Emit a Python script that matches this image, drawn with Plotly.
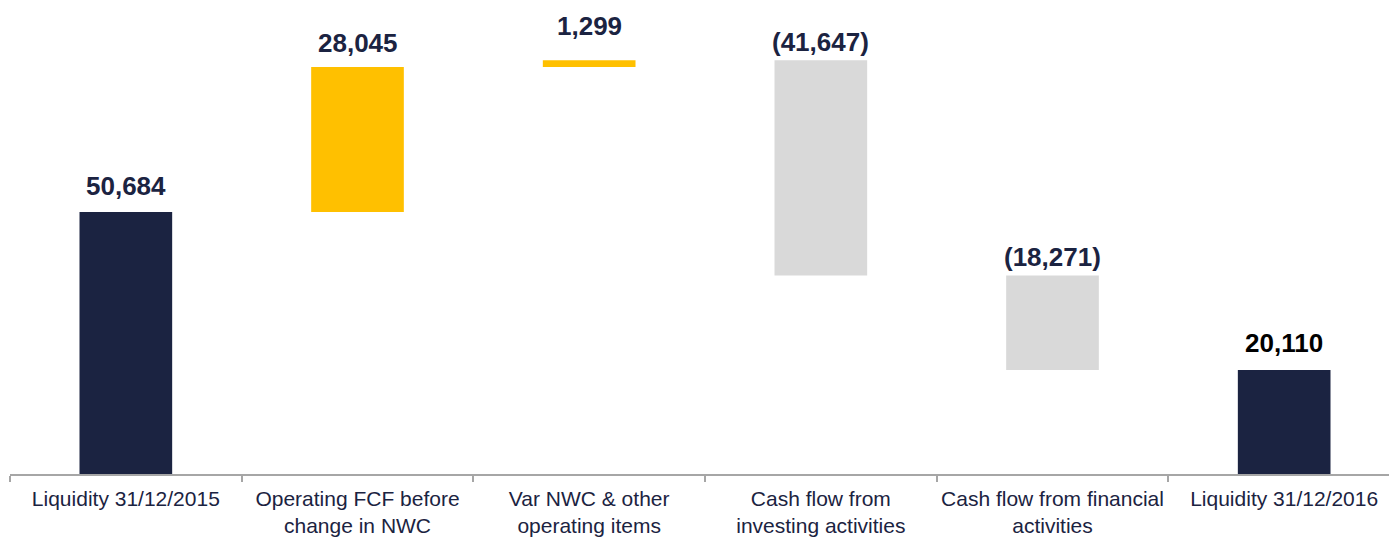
import plotly.graph_objects as go

categories = [
    "Liquidity 31/12/2015",
    "Operating FCF before<br>change in NWC",
    "Var NWC & other<br>operating items",
    "Cash flow from<br>investing activities",
    "Cash flow from financial<br>activities",
    "Liquidity 31/12/2016",
]
values = [50684, 28045, 1299, -41647, -18271, 20110]
kinds = ["total", "relative", "relative", "relative", "relative", "total"]
labels = ["50,684", "28,045", "1,299", "(41,647)", "(18,271)", "20,110"]

# styling (kept separate from data)
label_colors = ["#1B2341", "#1B2341", "#1B2341", "#1B2341", "#1B2341", "#000000"]
label_yshift = [9, 7, 17, 1, 2, 10]

NAVY = "#1B2341"
YELLOW = "#FFC000"
GRAY = "#D9D9D9"

bases, heights, colors, tops = [], [], [], []
running = 0
for v, k in zip(values, kinds):
    if k == "total":
        bases.append(0)
        heights.append(v)
        colors.append(NAVY)
        running = v
        tops.append(v)
    else:
        start = running
        end = running + v
        bases.append(min(start, end))
        heights.append(abs(v))
        colors.append(YELLOW if v > 0 else GRAY)
        tops.append(max(start, end))
        running = end

fig = go.Figure()
fig.add_trace(go.Bar(
    x=categories, y=heights, base=bases,
    marker=dict(color=colors, line=dict(width=0)),
    width=0.4, hoverinfo="skip", showlegend=False,
))

for c, t, lab, col, ys in zip(categories, tops, labels, label_colors, label_yshift):
    fig.add_annotation(
        x=c, y=t, text="<b>%s</b>" % lab, showarrow=False,
        yanchor="bottom", yshift=ys,
        font=dict(family="Arial, Liberation Sans, sans-serif", size=26, color=col),
    )

fig.update_layout(
    width=1389, height=537,
    margin=dict(l=10, r=0, t=0, b=63),
    paper_bgcolor="white", plot_bgcolor="white",
    bargap=0.6,
    xaxis=dict(
        type="category",
        range=[-0.5, 5.4525],
        automargin=False,
        tickangle=0,
        ticklabelstandoff=5,
        showline=True, linecolor="#A6A6A6", linewidth=1.5,
        ticks="outside", ticklen=6, tickcolor="#A6A6A6", tickwidth=1.5,
        tickson="boundaries",
        tickfont=dict(family="Arial, Liberation Sans, sans-serif", size=21, color="#1B2341"),
        showgrid=False, zeroline=False,
    ),
    yaxis=dict(
        range=[0, 91696], visible=False, showgrid=False, zeroline=False,
        automargin=False,
    ),
)

fig.write_html(
    "out.html",
    config={"displayModeBar": False},
    post_script="document.body.style.margin='0';document.body.style.padding='0';",
)
